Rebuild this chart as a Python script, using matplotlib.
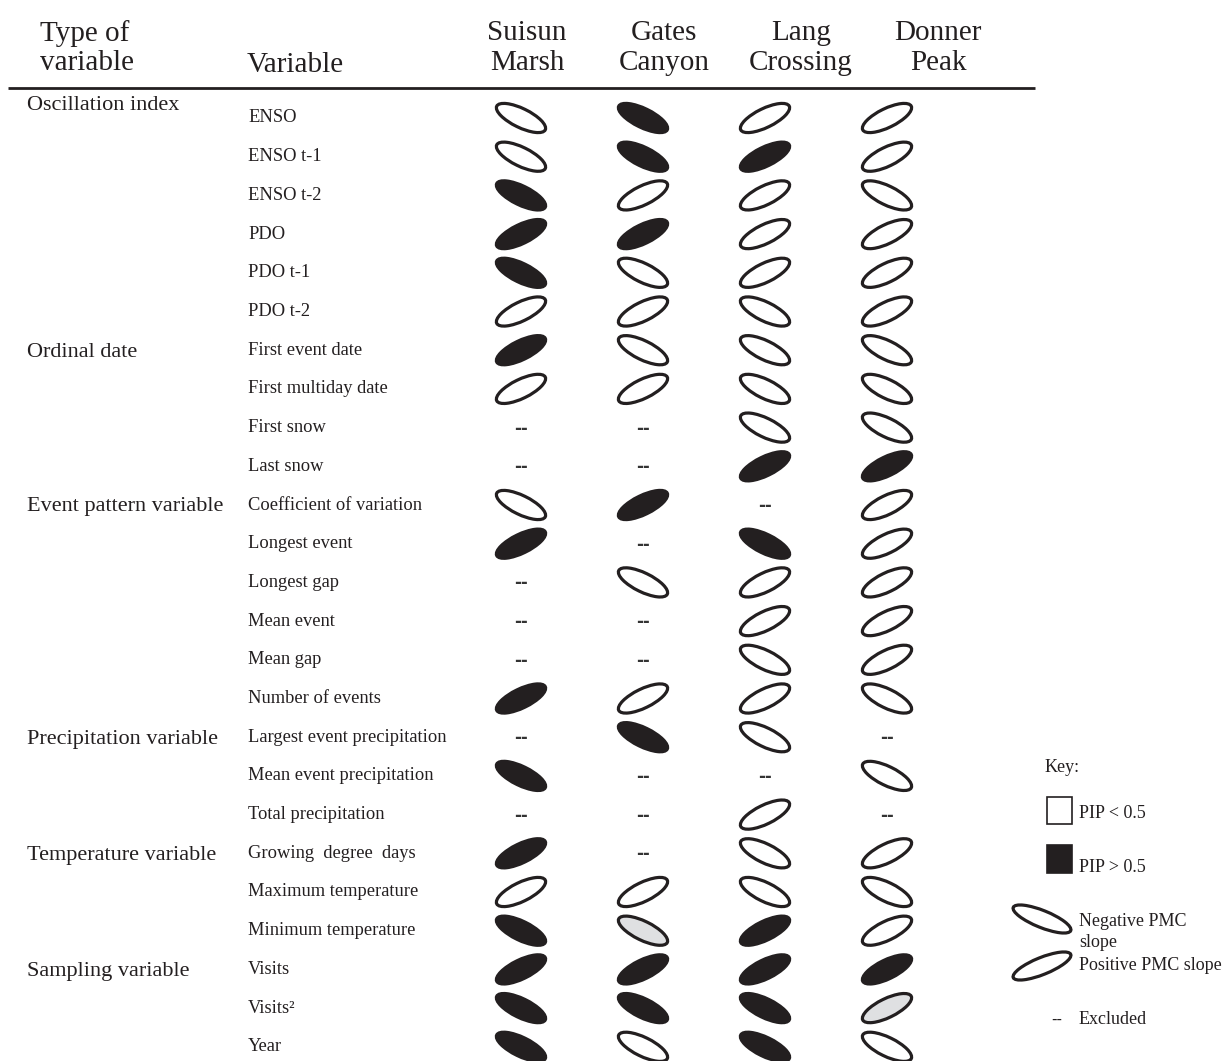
import matplotlib.pyplot as plt
from matplotlib.patches import Ellipse, Rectangle

plt.rcParams['font.family'] = ['Liberation Serif', 'DejaVu Serif']

# Column headers (sites)
sites = ['Suisun\nMarsh', 'Gates\nCanyon', 'Lang\nCrossing', 'Donner\nPeak']

# Row labels
variables = ['ENSO', 'ENSO t-1', 'ENSO t-2', 'PDO', 'PDO t-1', 'PDO t-2',
             'First event date', 'First multiday date', 'First snow', 'Last snow',
             'Coefficient of variation', 'Longest event', 'Longest gap',
             'Mean event', 'Mean gap', 'Number of events',
             'Largest event precipitation', 'Mean event precipitation',
             'Total precipitation', 'Growing  degree  days',
             'Maximum temperature', 'Minimum temperature',
             'Visits', 'Visits²', 'Year']

group_names = ['Oscillation index', 'Ordinal date', 'Event pattern variable',
               'Precipitation variable', 'Temperature variable', 'Sampling variable']
group_rows = [0, 6, 10, 16, 19, 22]

# Cell codes: N/P = negative/positive PMC slope, B = PIP > 0.5, G = grey, '--' = excluded
suisun = ['N', 'N', 'NB', 'PB', 'NB', 'P', 'PB', 'P', '--', '--',
          'N', 'PB', '--', '--', '--', 'PB', '--', 'NB', '--', 'PB',
          'P', 'NB', 'PB', 'NB', 'NB']
gates = ['NB', 'NB', 'P', 'PB', 'N', 'P', 'N', 'P', '--', '--',
         'PB', '--', 'N', '--', '--', 'P', 'NB', '--', '--', '--',
         'P', 'NG', 'PB', 'NB', 'N']
lang = ['P', 'PB', 'P', 'P', 'P', 'N', 'N', 'N', 'N', 'PB',
        '--', 'NB', 'P', 'P', 'N', 'P', 'N', '--', 'P', 'N',
        'N', 'PB', 'PB', 'NB', 'NB']
donner = ['P', 'P', 'N', 'P', 'P', 'P', 'N', 'N', 'N', 'PB',
          'P', 'P', 'P', 'P', 'P', 'N', '--', 'N', '--', 'P',
          'N', 'P', 'PB', 'PG', 'N']
site_codes = [suisun, gates, lang, donner]

# layout (pixels)
W, H = 1228, 1061
col_x0, col_dx = 521, 122
head_x0, head_dx = 527, 137
row_y0, row_dy = 118, 38.7
ink = '#231f20'
fills = {'': 'white', 'B': ink, 'G': '#dfe0e2'}

fig = plt.figure(figsize=(W / 100, H / 100), dpi=100)
ax = fig.add_axes([0, 0, 1, 1])
ax.set_xlim(0, W)
ax.set_ylim(H, 0)
ax.axis('off')

# header
ax.text(40, 48, 'Type of\nvariable', fontsize=21, ha='left', va='center',
        linespacing=1.15, color=ink)
ax.text(247, 65, 'Variable', fontsize=21, ha='left', va='center', color=ink)
for j, s in enumerate(sites):
    ax.text(head_x0 + j * head_dx, 48, s, fontsize=21, ha='center', va='center',
            multialignment='center', linespacing=1.15, color=ink)
ax.plot([8, 1035], [88, 88], color=ink, lw=2, solid_capstyle='butt')

# row and group labels
for i, v in enumerate(variables):
    ax.text(248, row_y0 + i * row_dy, v, fontsize=13.3, ha='left', va='center', color=ink)
for g, r in zip(group_names, group_rows):
    dy = -13 if r == 0 else 2
    ax.text(27, row_y0 + r * row_dy + dy, g, fontsize=16, ha='left', va='center', color=ink)

# cells
for j, codes in enumerate(site_codes):
    x = col_x0 + j * col_dx
    for i, c in enumerate(codes):
        y = row_y0 + i * row_dy
        if c == '--':
            ax.text(x, y + 1, '--', fontsize=12, fontweight='bold', family='DejaVu Sans',
                    ha='center', va='center', color='#333333')
        else:
            ang = 26 if c[0] == 'N' else -26
            ax.add_patch(Ellipse((x, y), 54, 19, angle=ang, fc=fills[c[1:]],
                                 ec=ink, lw=2.3))

# key
kx = 1047
ax.text(1045, 768, 'Key:', fontsize=13, ha='left', va='center', color=ink)
ax.add_patch(Rectangle((kx, 797), 25, 27, fc='white', ec=ink, lw=1.2))
ax.text(1079, 813, 'PIP < 0.5', fontsize=13, ha='left', va='center', color=ink)
ax.add_patch(Rectangle((kx, 845), 25, 28, fc=ink, ec=ink, lw=1.2))
ax.text(1079, 867, 'PIP > 0.5', fontsize=13, ha='left', va='center', color=ink)
ax.add_patch(Ellipse((1042, 919), 62, 17, angle=22, fc='white', ec=ink, lw=2.3))
ax.text(1079, 932, 'Negative PMC\nslope', fontsize=13, ha='left', va='center',
        linespacing=1.25, color=ink)
ax.add_patch(Ellipse((1042, 966), 62, 17, angle=-22, fc='white', ec=ink, lw=2.3))
ax.text(1079, 966, 'Positive PMC slope', fontsize=13, ha='left', va='center', color=ink)
ax.text(1057, 1019, '--', fontsize=11, family='DejaVu Sans', ha='center',
        va='center', color=ink)
ax.text(1079, 1019, 'Excluded', fontsize=13, ha='left', va='center', color=ink)

fig.savefig('out.png', dpi=100)
